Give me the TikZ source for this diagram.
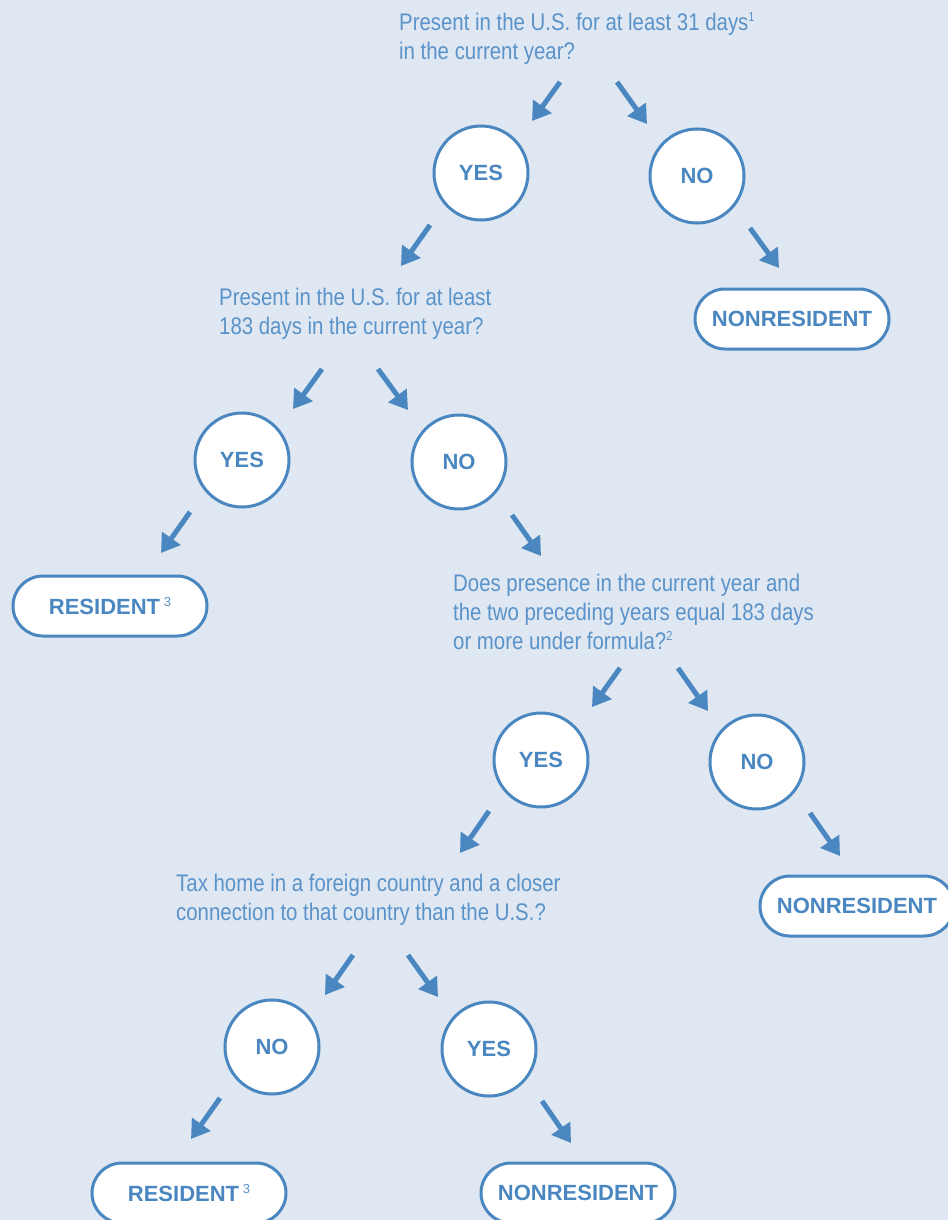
\documentclass[tikz,border=0pt]{standalone}
\usepackage{fontspec}
\setmainfont{Liberation Sans}
\newfontfamily\qfont[FakeStretch=0.85]{Liberation Sans}
\usetikzlibrary{arrows.meta}
\definecolor{bg}{HTML}{DFE7F2}
\definecolor{blu}{HTML}{4A87C0}
\definecolor{qtxt}{HTML}{5A93C9}
\begin{document}
\begin{tikzpicture}[x=1pt,y=-1pt,
  question/.style={anchor=north west, align=left, inner sep=0pt, text=qtxt, font=\qfont\fontsize{24}{29}\selectfont},
  choice/.style={circle, draw=blu, line width=3pt, fill=white, minimum size=94pt, inner sep=0pt, text=blu, font=\bfseries\fontsize{22}{24}\selectfont},
  terminal/.style={draw=blu, line width=3pt, fill=white, rounded corners=30pt, minimum width=194pt, minimum height=60pt, inner sep=0pt, text=blu, font=\bfseries\fontsize{22}{24}\selectfont},
  flow/.style={draw=blu, line width=5pt, -{Triangle[length=18pt,width=22pt]}}
]
\useasboundingbox (0,0) rectangle (948,1220);
\clip (0,0) rectangle (948,1220);
\fill[bg] (0,0) rectangle (948,1220);
\newcommand{\fnsup}[1]{\raisebox{9pt}{\fontsize{13}{13}\selectfont #1}}
\newcommand{\ressup}{\,\raisebox{8pt}{\mdseries\fontsize{13}{13}\selectfont\color{qtxt}3}}

% questions
\node[question] (q1) at (399,12.5) {Present in the U.S. for at least 31 days\fnsup{1}\\in the current year?};
\node[question] (q2) at (219,287.5) {Present in the U.S. for at least\\183 days in the current year?};
\node[question] (q3) at (453,573.5) {Does presence in the current year and\\the two preceding years equal 183 days\\or more under formula?\fnsup{2}};
\node[question] (q4) at (176,873.5) {Tax home in a foreign country and a closer\\connection to that country than the U.S.?};

% choices
\node[choice] (y1) at (481,173) {YES};
\node[choice] (n1) at (697,176) {NO};
\node[choice] (y2) at (242,460) {YES};
\node[choice] (n2) at (459,462) {NO};
\node[choice] (y3) at (541,760) {YES};
\node[choice] (n3) at (757,762) {NO};
\node[choice] (n4) at (272,1047) {NO};
\node[choice] (y4) at (489,1049) {YES};

% terminals
\node[terminal] (t1) at (792,319) {NONRESIDENT};
\node[terminal] (t2) at (110,606) {RESIDENT\ressup};
\node[terminal] (t3) at (857,906) {NONRESIDENT};
\node[terminal] (t4) at (189,1193) {RESIDENT\ressup};
\node[terminal] (t5) at (578,1193) {NONRESIDENT};

% arrow endpoints
\coordinate (a1s) at (560,82);   \coordinate (a1e) at (532,121);
\coordinate (a2s) at (617,82);   \coordinate (a2e) at (647,124);
\coordinate (a3s) at (430,225);  \coordinate (a3e) at (401,266);
\coordinate (a4s) at (750,228);  \coordinate (a4e) at (779,268);
\coordinate (a5s) at (322,369);  \coordinate (a5e) at (293,409);
\coordinate (a6s) at (378,369);  \coordinate (a6e) at (408,410);
\coordinate (a7s) at (190,512);  \coordinate (a7e) at (161,553);
\coordinate (a8s) at (512,515);  \coordinate (a8e) at (541,556);
\coordinate (a9s) at (620,668);  \coordinate (a9e) at (592,707);
\coordinate (a10s) at (678,668); \coordinate (a10e) at (708,711);
\coordinate (a11s) at (489,811); \coordinate (a11e) at (460,853);
\coordinate (a12s) at (810,813); \coordinate (a12e) at (840,856);
\coordinate (a13s) at (353,955); \coordinate (a13e) at (325,995);
\coordinate (a14s) at (408,955); \coordinate (a14e) at (438,997);
\coordinate (a15s) at (220,1098);\coordinate (a15e) at (191,1139);
\coordinate (a16s) at (542,1101);\coordinate (a16e) at (571,1143);

\foreach \i in {1,...,16} { \draw[flow] (a\i s) -- (a\i e); }
\end{tikzpicture}
\end{document}
